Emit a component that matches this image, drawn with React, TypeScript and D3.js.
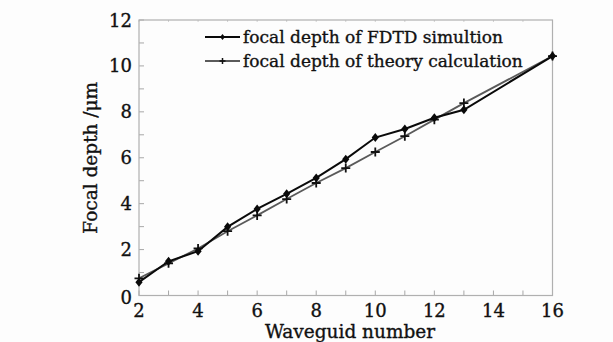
import React from "react";
import * as d3 from "d3";

const waveguides = [2, 3, 4, 5, 6, 7, 8, 9, 10, 11, 12, 13, 16];
const fdtdDepth = [0.58, 1.49, 1.93, 2.99, 3.77, 4.43, 5.12, 5.94, 6.88, 7.25, 7.74, 8.09, 10.43];
const theoryDepth = [0.75, 1.4, 2.05, 2.8, 3.49, 4.2, 4.9, 5.55, 6.25, 6.94, 7.66, 8.38, 10.43];
const xTicks = [2, 4, 6, 8, 10, 12, 14, 16];
const yTicks = [0, 2, 4, 6, 8, 10, 12];
const legendLabels = ["focal depth of FDTD simultion", "focal depth of theory calculation"];

const W = 613, H = 342;
const L = 139, R = 552.5, T = 20, B = 295.5;
const FONT = "'DejaVu Serif', serif";
const TXT = { fontFamily: FONT, fill: "#111", stroke: "#111", strokeWidth: 0.35 };

export default function App() {
  const x = d3.scaleLinear().domain([2, 16]).range([L, R]);
  const y = d3.scaleLinear().domain([0, 12]).range([B, T]);
  const line = d3.line<number>().x((_, i) => x(waveguides[i])).y((d) => y(d));
  const minorX = d3.range(2, 17, 1);
  const minorY = d3.range(0, 13, 1);
  const diamond = (cx: number, cy: number, s: number) =>
    `M${cx},${cy - s}L${cx + s * 0.8},${cy}L${cx},${cy + s}L${cx - s * 0.8},${cy}Z`;
  const plus = (cx: number, cy: number, s: number) =>
    `M${cx - s},${cy}L${cx + s},${cy}M${cx},${cy - s}L${cx},${cy + s}`;

  return (
    <svg width={W} height={H} style={{ position: "absolute", left: 0, top: 0, background: "#fdfdfd" }}>
      <rect x={0} y={0} width={W} height={H} fill="#fdfdfd" />
      {minorX.map((v) => (
        <g key={"tx" + v}>
          <line x1={x(v)} x2={x(v)} y1={B} y2={B - 5} stroke="#a8a8a8" strokeWidth={1} />
          <line x1={x(v)} x2={x(v)} y1={T} y2={T + 2} stroke="#d0d0d0" strokeWidth={1} />
        </g>
      ))}
      {minorY.map((v) => (
        <line key={"ty" + v} x1={L} x2={L + 5} y1={y(v)} y2={y(v)} stroke="#a8a8a8" strokeWidth={1} />
      ))}
      <rect x={L} y={T} width={R - L} height={B - T} fill="none" stroke="#b0b0b0" strokeWidth={1.2} />
      {xTicks.map((v) => (
        <text key={"lx" + v} x={x(v)} y={317} textAnchor="middle" fontSize={18} {...TXT}>
          {v}
        </text>
      ))}
      {yTicks.map((v) => (
        <text key={"ly" + v} x={132} y={y(v) + (v === 0 ? 8 : 6.5)} textAnchor="end" fontSize={18} {...TXT}>
          {v}
        </text>
      ))}
      <text x={350} y={338} textAnchor="middle" fontSize={18.5} {...TXT}>
        Waveguid number
      </text>
      <text transform={`translate(97,${(T + B) / 2}) rotate(-90)`} textAnchor="middle" fontSize={18.5} {...TXT}>
        Focal depth /μm
      </text>
      <path d={line(theoryDepth) || ""} fill="none" stroke="#5a5a5a" strokeWidth={1.8} />
      {theoryDepth.map((d, i) => (
        <path key={"pt" + i} d={plus(x(waveguides[i]), y(d), 4.5)} stroke="#111" strokeWidth={1.8} fill="none" />
      ))}
      <path d={line(fdtdDepth) || ""} fill="none" stroke="#0a0a0a" strokeWidth={2} />
      {fdtdDepth.map((d, i) => (
        <path key={"pf" + i} d={diamond(x(waveguides[i]), y(d), 4.5)} fill="#0a0a0a" />
      ))}
      <line x1={205} x2={240} y1={37} y2={37} stroke="#0a0a0a" strokeWidth={2} />
      <path d={diamond(222.5, 37, 3)} fill="#0a0a0a" />
      <text x={243} y={43} fontSize={17} {...TXT}>
        {legendLabels[0]}
      </text>
      <line x1={205} x2={240} y1={61} y2={61} stroke="#5a5a5a" strokeWidth={1.8} />
      <path d={plus(222.5, 61, 3)} stroke="#111" strokeWidth={1.5} fill="none" />
      <text x={243} y={67} fontSize={17} {...TXT}>
        {legendLabels[1]}
      </text>
    </svg>
  );
}
